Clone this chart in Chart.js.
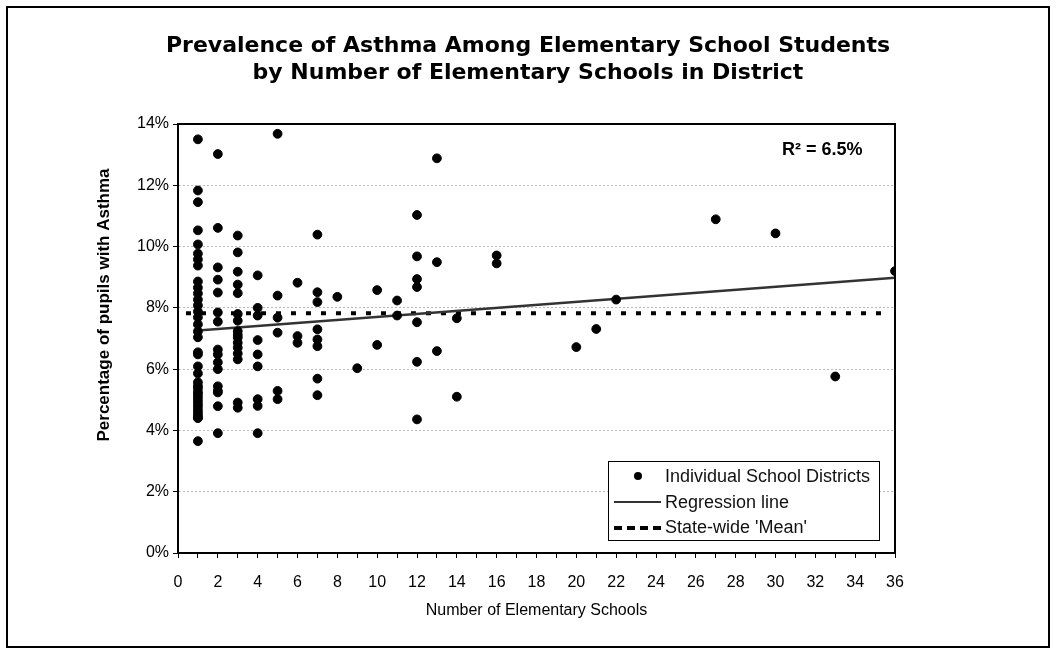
<!DOCTYPE html>
<html>
<head>
<meta charset="utf-8">
<script src="https://cdn.jsdelivr.net/npm/chart.js@4/dist/chart.umd.min.js"></script>
<style>
  html, body { margin: 0; padding: 0; background: #fff; }
  #wrap { position: relative; width: 1056px; height: 653px; }
  #frame { position: absolute; left: 6px; top: 6px; width: 1040px; height: 638px;
           border: 2px solid #000; pointer-events: none; }
  #title { position: absolute; left: 0; top: 31px; width: 1056px; text-align: center;
           font: bold 22px "DejaVu Sans", sans-serif; line-height: 27px; color: #000; }
  #legend { position: absolute; left: 608px; top: 461px; width: 270px; height: 78px;
            border: 1.5px solid #000; background: #fff;
            font: 18px "Liberation Sans", Arial, sans-serif; color: #111; }
  .row { position: absolute; left: 0; height: 26px; line-height: 26px; width: 100%; }
  .row span.txt { position: absolute; left: 56px; }
  .dot { position: absolute; left: 25px; top: 9px; width: 8px; height: 8px; border-radius: 50%; background: #000; }
  .solid { position: absolute; left: 5px; top: 12px; width: 47px; border-top: 2px solid #333; }
  .dash { position: absolute; left: 5px; top: 12px; width: 47px; height: 0;
          border-top: 4px dashed #000; }
</style>
</head>
<body>
<div id="wrap">
  <canvas id="c" width="1056" height="653"></canvas>
  <div id="frame"></div>
  <div id="title"></div>
  <div id="legend">
    <div class="row" style="top:1px"><div class="dot"></div><span class="txt">Individual School Districts</span></div>
    <div class="row" style="top:27px"><div class="solid"></div><span class="txt">Regression line</span></div>
    <div class="row" style="top:52px"><div class="dash"></div><span class="txt">State-wide 'Mean'</span></div>
  </div>
</div>
<script>
// ─── Data ────────────────────────────────────────────────────
// number of elementary schools in district (x) and asthma prevalence in % (y)
const schoolCounts = [
  1,1,1,1,1,1,1,1,1,1,1,1,1,1,1,1,1,1,1,1,1,1,1,1,1,1,1,1,1,1,1,1,1,1,1,1,1,
  2,2,2,2,2,2,2,2,2,2,2,2,2,2,2,2,
  3,3,3,3,3,3,3,3,3,3,3,3,3,3,3,3,
  4,4,4,4,4,4,4,4,4,
  5,5,5,5,5,5,
  6,6,6,
  7,7,7,7,7,7,7,7,
  8, 9, 10,10, 11,11,
  12,12,12,12,12,12,12,
  13,13,13, 14,14, 16,16,
  20, 21, 22, 27, 30, 33, 36
];
const asthmaPct = [
  13.5, 11.83, 11.45, 10.53, 10.07, 9.77, 9.58, 9.38, 8.86, 8.66, 8.47, 8.27, 8.08,
  7.88, 7.69, 7.46, 7.23, 7.04, 6.55, 6.09, 5.86, 5.57, 5.45, 5.37, 5.25, 5.18,
  5.08, 4.98, 4.88, 4.79, 4.68, 4.59, 4.5, 4.42, 4.4, 3.65, 6.48,
  13.02, 10.61, 9.32, 8.92, 8.5, 7.85, 7.55, 6.64, 6.48, 6.22, 6.0, 5.44, 5.24, 4.79, 3.91, 5.29,
  10.36, 9.81, 9.18, 8.76, 8.48, 7.8, 7.58, 7.24, 7.03, 6.86, 6.7, 6.51, 6.32, 4.91, 4.74, 7.12,
  9.06, 8.0, 7.75, 6.95, 6.48, 6.09, 5.02, 4.8, 3.91,
  13.68, 8.4, 7.68, 7.19, 5.29, 5.02,
  8.82, 7.08, 6.86,
  10.39, 8.51, 8.19, 7.3, 6.97, 6.75, 5.69, 5.15,
  8.36, 6.03, 8.58, 6.79, 8.24, 7.75,
  11.03, 9.68, 8.94, 8.68, 7.53, 6.24, 4.36,
  12.88, 9.49, 6.59, 7.66, 5.10, 9.71, 9.45,
  6.72, 7.31, 8.27, 10.89, 10.43, 5.76, 9.2
];

const regressionX = [1, 36];
const regressionY = [7.26, 8.98];
const meanX = [0.4, 35.6];
const meanY = [7.82, 7.82];

const titleLines = [
  'Prevalence of Asthma Among Elementary School Students',
  'by Number of Elementary Schools in District'
];
const yAxisTitle = 'Percentage of pupils with Asthma';
const xAxisTitle = 'Number of Elementary Schools';
const rSquaredLabel = 'R\u00B2 = 6.5%';

document.getElementById('title').innerHTML = titleLines.join('<br>');

const toPoints = (xs, ys) => xs.map((x, i) => ({ x, y: ys[i] }));

// frame around the plot area, the y title and the R² note
const plotExtras = {
  id: 'plotExtras',
  afterDraw(chart) {
    const { ctx, chartArea: a } = chart;
    ctx.save();
    ctx.strokeStyle = '#000';
    ctx.lineWidth = 2;
    ctx.strokeRect(a.left, a.top, a.right - a.left, a.bottom - a.top);
    ctx.fillStyle = '#000';
    ctx.textBaseline = 'middle';
    ctx.textAlign = 'left';
    ctx.font = 'bold 18px "Liberation Sans", Arial, sans-serif';
    ctx.fillText(rSquaredLabel, 782, 150);
    ctx.translate(104, 305);
    ctx.rotate(-Math.PI / 2);
    ctx.textAlign = 'center';
    ctx.font = 'bold 17px "Liberation Sans", Arial, sans-serif';
    ctx.fillText(yAxisTitle, 0, 0);
    ctx.restore();
  }
};

const tickFont = { family: '"Liberation Sans", Arial, sans-serif', size: 16 };

new Chart(document.getElementById('c'), {
  type: 'scatter',
  data: {
    datasets: [
      {
        label: 'Individual School Districts',
        data: toPoints(schoolCounts, asthmaPct),
        backgroundColor: '#000',
        borderColor: '#000',
        pointRadius: 4.4,
        order: 1,
      },
      {
        type: 'line',
        label: 'Regression line',
        data: toPoints(regressionX, regressionY),
        borderColor: '#333',
        borderWidth: 2.5,
        pointRadius: 0,
        order: 2,
      },
      {
        type: 'line',
        label: "State-wide 'Mean'",
        data: toPoints(meanX, meanY),
        borderColor: '#000',
        borderWidth: 4,
        borderDash: [5, 10],
        pointRadius: 0,
        order: 3,
      },
    ],
  },
  options: {
    responsive: false,
    animation: false,
    layout: { padding: { left: 0, right: 161, top: 124, bottom: 0 } },
    plugins: {
      legend: { display: false },
      tooltip: { enabled: false },
    },
    scales: {
      x: {
        type: 'linear',
        min: 0,
        max: 36,
        afterFit: s => { s.height = 100; },
        ticks: {
          stepSize: 1,
          color: '#000',
          font: tickFont,
          padding: 15,
          maxRotation: 0,
          autoSkip: false,
          callback: v => (v % 2 === 0 ? v : ''),
        },
        grid: { drawOnChartArea: false, drawTicks: true, tickLength: 5, color: '#000' },
        border: { display: true, color: '#000', width: 2 },
        title: {
          display: true,
          text: xAxisTitle,
          color: '#000',
          font: { family: '"Liberation Sans", Arial, sans-serif', size: 16 },
          padding: { top: 0, bottom: 33 },
        },
      },
      y: {
        min: 0,
        max: 14,
        afterFit: s => { s.width = 178; },
        ticks: {
          stepSize: 2,
          color: '#000',
          font: tickFont,
          padding: 4,
          callback: v => v + '%',
        },
        grid: { color: '#b8b8b8', lineWidth: 1, tickLength: 5, tickColor: '#000' },
        border: { display: true, color: '#000', width: 2, dash: [2, 2] },
      },
    },
  },
  plugins: [plotExtras],
});
</script>
</body>
</html>
